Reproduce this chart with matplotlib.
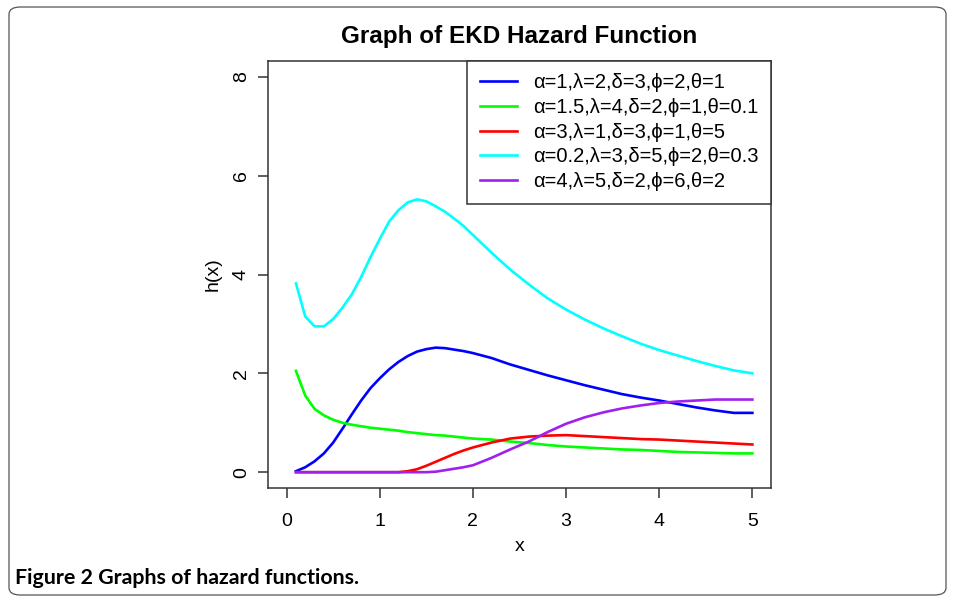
import numpy as np
import matplotlib.pyplot as plt
from matplotlib.patches import FancyBboxPatch

# values
x = [0.1, 0.2, 0.3, 0.4, 0.5, 0.6, 0.7, 0.8, 0.9, 1.0, 1.1, 1.2, 1.3, 1.4, 1.5,
     1.6, 1.7, 1.8, 1.9, 2.0, 2.2, 2.4, 2.6, 2.8, 3.0, 3.2, 3.4, 3.6, 3.8, 4.0,
     4.2, 4.4, 4.6, 4.8, 5.0]
h_blue = [0.02, 0.10, 0.22, 0.38, 0.60, 0.88, 1.17, 1.45, 1.70, 1.90, 2.08, 2.23, 2.35, 2.44, 2.49,
          2.52, 2.51, 2.48, 2.45, 2.41, 2.31, 2.18, 2.07, 1.96, 1.86, 1.76, 1.67, 1.58, 1.51, 1.45,
          1.38, 1.31, 1.25, 1.20, 1.20]
h_green = [2.05, 1.55, 1.28, 1.15, 1.06, 1.00, 0.96, 0.93, 0.90, 0.88, 0.86, 0.84, 0.81, 0.79, 0.77,
           0.75, 0.74, 0.72, 0.70, 0.68, 0.66, 0.62, 0.59, 0.55, 0.52, 0.50, 0.48, 0.46, 0.45, 0.43,
           0.41, 0.40, 0.39, 0.38, 0.38]
h_red = [0, 0, 0, 0, 0, 0, 0, 0, 0, 0, 0, 0, 0.02, 0.06, 0.13,
         0.21, 0.29, 0.37, 0.44, 0.50, 0.60, 0.68, 0.72, 0.74, 0.75, 0.73, 0.71, 0.69, 0.67, 0.66,
         0.64, 0.62, 0.60, 0.58, 0.56]
h_cyan = [3.82, 3.15, 2.95, 2.95, 3.10, 3.33, 3.60, 3.95, 4.35, 4.72, 5.07, 5.30, 5.46, 5.52, 5.48,
          5.38, 5.27, 5.13, 4.98, 4.80, 4.44, 4.10, 3.80, 3.52, 3.29, 3.09, 2.91, 2.75, 2.60, 2.47,
          2.36, 2.25, 2.15, 2.06, 2.00]
h_purple = [0, 0, 0, 0, 0, 0, 0, 0, 0, 0, 0, 0, 0, 0, 0,
            0.01, 0.04, 0.07, 0.10, 0.14, 0.29, 0.46, 0.62, 0.81, 0.98, 1.11, 1.21, 1.29, 1.35, 1.40,
            1.43, 1.45, 1.47, 1.47, 1.47]

labels = ["α=1,λ=2,δ=3,ϕ=2,θ=1",
          "α=1.5,λ=4,δ=2,ϕ=1,θ=0.1",
          "α=3,λ=1,δ=3,ϕ=1,θ=5",
          "α=0.2,λ=3,δ=5,ϕ=2,θ=0.3",
          "α=4,λ=5,δ=2,ϕ=6,θ=2"]
colors = ["#0000FF", "#00FF00", "#FF0000", "#00FFFF", "#A020F0"]
series = [h_blue, h_green, h_red, h_cyan, h_purple]

plt.rcParams['font.family'] = ['Liberation Sans', 'DejaVu Sans']

fig = plt.figure(figsize=(9.56, 6.02), dpi=100)
fig.patches.append(FancyBboxPatch((9 / 956, 7 / 602), 937 / 956, 588 / 602,
                                  boxstyle="round,pad=0,rounding_size=0.012",
                                  transform=fig.transFigure, fill=False,
                                  edgecolor="#555555", linewidth=0.9))

ax = fig.add_axes([268 / 956, 1 - 488 / 602, 503 / 956, 427 / 602])
for y, c, lab in zip(series, colors, labels):
    ax.plot(x, y, color=c, lw=1.9, label=lab)

ax.set_xlim(-0.2, 5.2)
ax.set_ylim(-0.32, 8.32)
ax.set_xticks([0, 1, 2, 3, 4, 5])
ax.set_yticks([0, 2, 4, 6, 8])
ax.set_yticklabels(["0", "2", "4", "6", "8"], rotation=90, va="center")
ax.tick_params(direction="out", length=7, width=1.1, labelsize=14, color="#333333")
ax.tick_params(axis="x", pad=11)
ax.tick_params(axis="y", pad=6)
for s in ax.spines.values():
    s.set_color("#333333")
    s.set_linewidth(1.1)
ax.set_xlabel("x", fontsize=14, labelpad=6)
ax.set_ylabel("h(x)", fontsize=14, labelpad=8)
ax.set_title("Graph of EKD Hazard Function", fontsize=17.5, fontweight="bold", pad=13)

leg = ax.legend(loc="upper right", borderaxespad=0, fancybox=False, fontsize=14.5,
                handlelength=1.85, handletextpad=0.8, labelspacing=0.28,
                borderpad=0.62, framealpha=1)
leg.get_frame().set_edgecolor("#333333")
leg.get_frame().set_linewidth(1.1)

fig.text(15 / 956, 1 - 578 / 602, "Figure 2 Graphs of hazard functions.",
         fontsize=15.4, fontweight="bold", family=["Lato", "DejaVu Sans"], va="center")

fig.savefig("out.png", dpi=100)
